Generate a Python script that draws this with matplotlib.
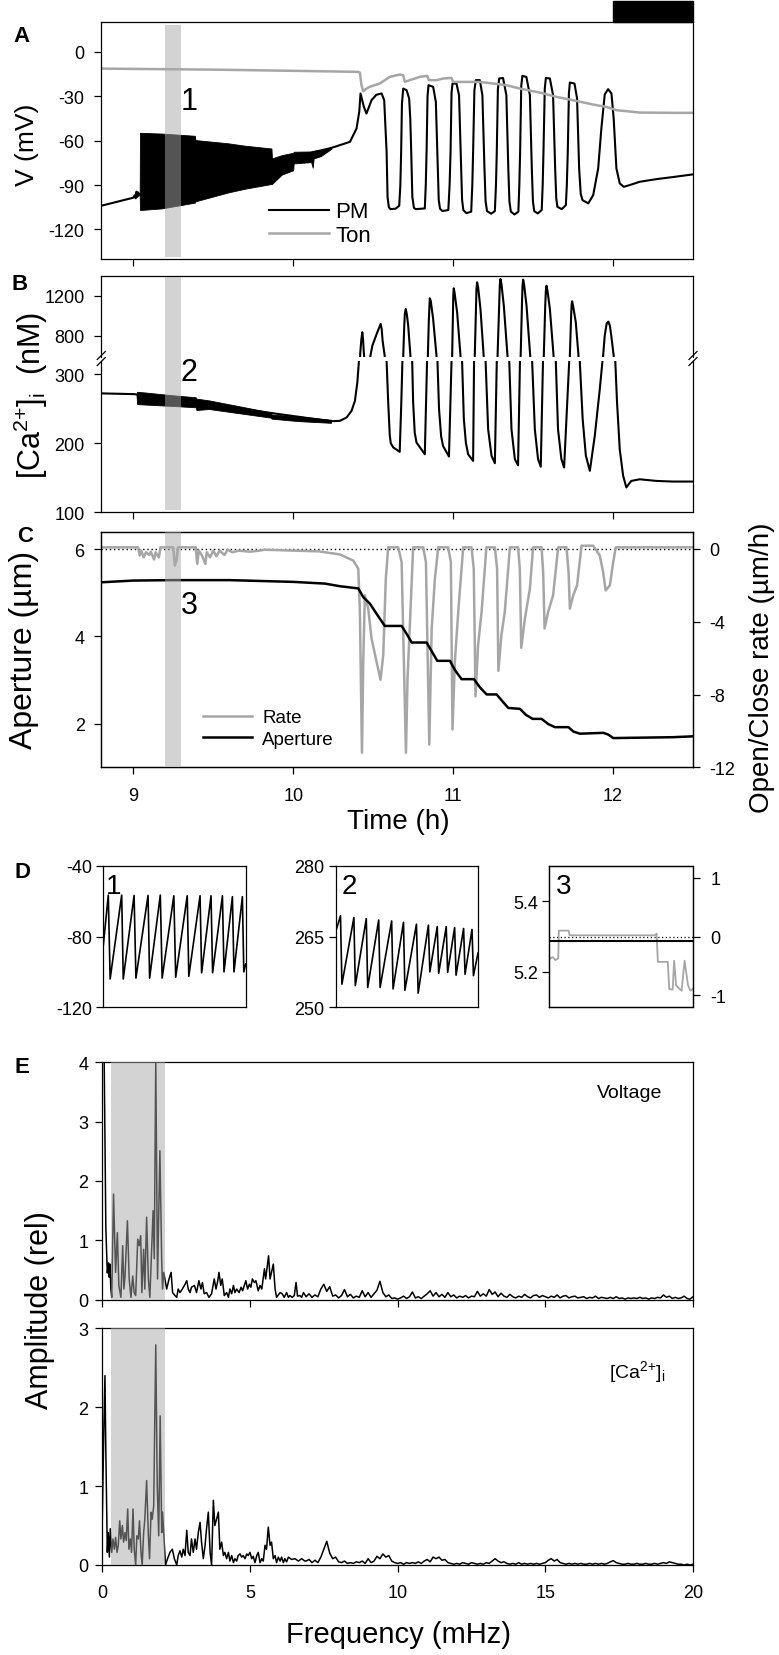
import numpy as np
import matplotlib
matplotlib.use("Agg")
import matplotlib.pyplot as plt
from matplotlib.lines import Line2D
from matplotlib.patches import Rectangle
import matplotlib.transforms as mtransforms

plt.rcParams['font.family'] = ['Liberation Sans', 'DejaVu Sans']
plt.rcParams['mathtext.default'] = 'regular'
plt.rcParams['axes.unicode_minus'] = False

# ---------------- DATA ----------------
# Panel A : membrane voltage (PM, black) and tonoplast (Ton, grey), time in h
pm_t = [8.80, 8.999, 9.010, 9.015, 9.020, 9.025, 9.030, 9.036, 9.040,
        10.239, 10.2925, 10.355, 10.396, 10.413, 10.421, 10.442, 10.458, 10.490, 10.520, 10.553,
        10.569, 10.584, 10.590, 10.598, 10.608, 10.640, 10.663, 10.670, 10.675, 10.680,
        10.688, 10.709, 10.725, 10.732, 10.738, 10.745, 10.755, 10.767, 10.823, 10.829,
        10.834, 10.840, 10.846, 10.875, 10.892, 10.904, 10.910, 10.918, 10.933, 10.970,
        10.978, 10.984, 10.990, 10.996, 11.021, 11.037, 11.050, 11.056, 11.064, 11.083,
        11.113, 11.120, 11.125, 11.133, 11.142, 11.167, 11.183, 11.196, 11.203, 11.212,
        11.238, 11.261, 11.268, 11.273, 11.280, 11.288, 11.312, 11.333, 11.345, 11.352,
        11.361, 11.384, 11.408, 11.414, 11.419, 11.426, 11.433, 11.458, 11.480, 11.492,
        11.499, 11.507, 11.529, 11.554, 11.560, 11.565, 11.573, 11.580, 11.605, 11.625,
        11.638, 11.645, 11.652, 11.679, 11.705, 11.711, 11.717, 11.724, 11.730, 11.759,
        11.775, 11.788, 11.798, 11.809, 11.845, 11.876, 11.907, 11.927, 11.948, 11.969,
        11.990, 12.004, 12.021, 12.042, 12.067, 12.105, 12.167, 12.272, 12.375, 12.500]
pm_v = [-104.0, -98.6, -96.8, -99.0, -94.5, -98.0, -95.0, -97.0, -96.0,
        -64.9, -63.0, -60.8, -51.8, -40.5, -28.1, -37.2, -41.7, -32.6, -29.0, -28.1,
        -32.7, -67.5, -98.0, -105.0, -106.3, -106.0, -104.0, -90.0, -67.5, -35.0,
        -24.8, -25.9, -31.5, -45.0, -67.5, -98.0, -105.5, -106.3, -105.8, -90.0,
        -67.5, -30.0, -22.5, -23.6, -33.8, -78.8, -100.0, -106.0, -107.6, -106.9,
        -90.0, -67.5, -28.0, -21.4, -21.4, -29.3, -78.8, -100.0, -107.0, -109.0,
        -108.0, -90.0, -67.5, -26.0, -19.1, -19.1, -29.3, -78.8, -101.0, -107.6,
        -109.4, -107.6, -90.0, -67.5, -25.0, -18.0, -17.6, -29.3, -78.8, -101.0,
        -108.0, -109.9, -108.0, -90.0, -67.5, -23.0, -16.2, -16.9, -29.3, -78.8,
        -101.0, -107.6, -109.2, -106.9, -90.0, -67.5, -25.0, -17.6, -18.0, -29.3,
        -78.8, -99.0, -104.7, -106.3, -103.6, -90.0, -67.5, -28.0, -20.7, -21.4,
        -31.5, -78.8, -96.0, -100.2, -102.4, -96.8, -78.8, -51.8, -28.8, -25.2,
        -28.1, -45.0, -78.8, -88.9, -91.2, -90.0, -87.8, -86.0, -84.6, -82.8]
# envelope of the fast (unresolved) PM oscillations
pm_band_t = [9.040, 9.042, 9.177, 9.385, 9.389, 9.594, 9.698, 9.864, 9.867, 9.928,
             10.000, 10.003, 10.112, 10.122, 10.128, 10.172, 10.239]
pm_band_hi = [-96.0, -54.7, -55.2, -56.7, -59.6, -61.8, -63.4, -65.3, -72.0, -69.8,
              -68.2, -67.5, -67.3, -67.0, -66.8, -66.2, -65.0]
pm_band_lo = [-97.0, -106.9, -105.8, -101.9, -101.0, -95.0, -92.5, -89.3, -89.3, -83.0,
              -80.0, -75.4, -74.5, -78.3, -72.0, -70.5, -65.5]
ton_t = [8.80, 9.50, 10.00, 10.405, 10.417, 10.427, 10.438, 10.458, 10.479, 10.541,
         10.604, 10.666, 10.688, 10.698, 10.729, 10.792, 10.838, 10.848, 10.896, 10.938,
         10.990, 11.000, 11.083, 11.167, 11.250, 11.333, 11.417, 11.542, 11.646, 11.751,
         11.876, 11.958, 12.021, 12.167, 12.375, 12.500]
ton_v = [-11.3, -12.0, -12.8, -13.5, -14.0, -22.5, -26.6, -24.8, -23.6, -21.4,
         -16.9, -15.3, -15.8, -20.3, -19.1, -16.9, -16.2, -19.1, -19.1, -18.0,
         -17.6, -20.3, -20.3, -20.3, -21.4, -22.5, -24.8, -27.5, -30.4, -32.7,
         -35.6, -37.2, -39.4, -41.0, -41.2, -41.2]

# Panel B : cytosolic Ca2+ (nM)
ca_t = [8.80, 9.009, 9.020, 10.236, 10.2925, 10.334, 10.365, 10.386, 10.401, 10.411,
        10.415, 10.419, 10.426, 10.432, 10.437, 10.442, 10.453, 10.479, 10.483, 10.495,
        10.525, 10.547, 10.553, 10.559, 10.572, 10.576, 10.584, 10.594, 10.604, 10.610,
        10.625, 10.666, 10.676, 10.683, 10.685, 10.688, 10.694, 10.698, 10.704, 10.711,
        10.719, 10.733, 10.735, 10.744, 10.750, 10.760, 10.771, 10.823, 10.837, 10.839,
        10.842, 10.848, 10.852, 10.854, 10.860, 10.875, 10.896, 10.898, 10.902, 10.912,
        10.925, 10.937, 10.974, 10.990, 10.992, 10.994, 10.999, 11.001, 11.004, 11.009,
        11.025, 11.046, 11.048, 11.056, 11.067, 11.080, 11.094, 11.125, 11.131, 11.133,
        11.135, 11.143, 11.146, 11.150, 11.156, 11.171, 11.191, 11.193, 11.203, 11.219,
        11.240, 11.261, 11.273, 11.275, 11.278, 11.289, 11.292, 11.296, 11.302, 11.317,
        11.340, 11.342, 11.351, 11.365, 11.386, 11.406, 11.418, 11.420, 11.422, 11.431,
        11.434, 11.438, 11.444, 11.459, 11.482, 11.484, 11.494, 11.511, 11.531, 11.548,
        11.562, 11.564, 11.567, 11.576, 11.580, 11.584, 11.590, 11.605, 11.628, 11.630,
        11.642, 11.656, 11.677, 11.694, 11.726, 11.728, 11.730, 11.738, 11.741, 11.744,
        11.750, 11.767, 11.784, 11.786, 11.792, 11.810, 11.830, 11.855, 11.886, 11.917,
        11.934, 11.936, 11.938, 11.948, 11.960, 11.971, 11.980, 11.989, 12.004, 12.006,
        12.014, 12.025, 12.042, 12.063, 12.083, 12.114, 12.167, 12.272, 12.375, 12.500]
ca_v = [272.1, 271.0, 270.5, 231.8, 232.4, 237.2, 246.9, 261.4, 287.9, 319,
        450, 620, 760, 834, 760, 620, 450, 500, 600, 700,
        830, 917, 870, 750, 600, 450, 319, 259, 211, 200,
        194, 187.5, 259, 319, 450, 600, 880, 1020, 1067, 1010,
        900, 600, 450, 319, 259, 215, 201, 184, 319, 450,
        600, 950, 1110, 1174, 1150, 967, 600, 450, 319, 249,
        210, 196, 180.7, 319, 450, 600, 1050, 1200, 1274, 1230,
        1034, 600, 450, 319, 235, 200, 184, 174.4, 319, 450,
        600, 1100, 1270, 1334, 1290, 1067, 600, 450, 319, 220,
        182, 171, 319, 450, 600, 1150, 1310, 1367, 1320, 1100,
        600, 450, 319, 220, 177, 168, 319, 450, 600, 1150,
        1300, 1360, 1310, 1100, 600, 450, 319, 220, 177, 166,
        319, 450, 600, 1100, 1250, 1300, 1250, 1067, 600, 450,
        319, 220, 177, 164.8, 319, 450, 600, 1000, 1110, 1144,
        1100, 934, 600, 450, 319, 235, 182, 160, 211, 278,
        319, 450, 600, 800, 920, 940, 900, 800, 600, 450,
        319, 259, 191, 153, 136, 145.4, 147.8, 145.4, 144.5, 144.5]
ca_band_t = [9.020, 9.024, 9.070, 9.240, 9.390, 9.395, 9.473, 9.860, 9.865, 10.030, 10.236]
ca_band_hi = [271.0, 274.4, 273.5, 269.5, 266.5, 264.5, 262.0, 244.6, 241.5, 239.0, 234.0]
ca_band_lo = [270.0, 256.6, 256.0, 254.0, 252.0, 248.0, 249.5, 237.0, 235.5, 232.0, 229.5]

# Panel C : stomatal aperture (um) and open/close rate (um/h)
ap_t = [8.80, 9.00, 9.25, 9.60, 10.00, 10.20, 10.2925, 10.407, 10.438, 10.480,
        10.521, 10.573, 10.678, 10.709, 10.741, 10.834, 10.866, 10.901, 10.980, 11.011,
        11.053, 11.130, 11.168, 11.210, 11.272, 11.309, 11.345, 11.418, 11.456, 11.497,
        11.553, 11.595, 11.637, 11.721, 11.752, 11.793, 11.939, 11.970, 12.001, 12.375,
        12.500]
ap_v = [5.24, 5.28, 5.29, 5.29, 5.25, 5.21, 5.15, 5.10, 4.90, 4.75,
        4.52, 4.24, 4.24, 4.06, 3.86, 3.86, 3.66, 3.44, 3.44, 3.23,
        3.02, 3.02, 2.83, 2.67, 2.67, 2.51, 2.36, 2.34, 2.20, 2.11,
        2.11, 1.99, 1.92, 1.92, 1.82, 1.77, 1.79, 1.75, 1.67, 1.69,
        1.71]
rate_t = [8.80, 9.03, 9.04, 9.05, 9.065, 9.08, 9.10, 9.11, 9.13, 9.14,
          9.16, 9.17, 9.25, 9.26, 9.27, 9.28, 9.39, 9.40, 9.41, 9.43,
          9.45, 9.46, 9.48, 9.50, 9.52, 9.54, 9.57, 9.59, 9.62, 9.66,
          9.73, 9.79, 9.82, 10.00, 10.16, 10.2925, 10.376, 10.407, 10.417, 10.430,
          10.438, 10.448, 10.469, 10.490, 10.521, 10.546, 10.563, 10.579, 10.594, 10.657,
          10.678, 10.705, 10.715, 10.733, 10.750, 10.813, 10.830, 10.851, 10.866, 10.886,
          10.907, 10.969, 10.986, 10.996, 11.011, 11.032, 11.063, 11.115, 11.129, 11.140,
          11.156, 11.178, 11.208, 11.261, 11.275, 11.283, 11.302, 11.323, 11.355, 11.406,
          11.417, 11.426, 11.449, 11.480, 11.500, 11.553, 11.563, 11.572, 11.594, 11.625,
          11.657, 11.709, 11.722, 11.730, 11.751, 11.775, 11.803, 11.876, 11.917, 11.938,
          11.954, 11.980, 12.001, 12.017, 12.500]
rate_v = [0.09, 0.09, -0.36, -0.09, -0.46, -0.18, -0.33, -0.15, -0.58, -0.18,
          -0.46, 0.09, 0.09, -0.91, -0.64, 0.09, 0.09, -0.82, -0.09, -0.36,
          -0.82, -0.18, -0.46, -0.09, -0.40, -0.09, -0.33, -0.04, -0.18, -0.09,
          -0.15, -0.09, -0.04, -0.09, -0.13, -0.30, -0.64, -1.09, -3.46, -11.2,
          -6.2, -2.55, -3.28, -4.92, -6.19, -7.19, -5.83, -1.64, 0.09, 0.09,
          -0.73, -11.2, -7.1, -3.46, 0.09, 0.09, -0.73, -10.75, -4.37, -1.64,
          0.09, 0.09, -0.73, -9.92, -6.19, -3.46, 0.09, 0.09, -1.09, -8.1,
          -5.28, -3.46, 0.09, 0.09, -1.09, -6.7, -4.73, -3.46, 0.09, 0.09,
          -1.09, -5.43, -3.82, -2.18, 0.09, 0.09, -1.27, -4.37, -3.46, -2.55,
          0.09, 0.09, -1.27, -3.28, -2.55, -2.0, 0.18, 0.18, -0.36, -1.27,
          -2.28, -2.0, -0.73, 0.09, 0.09]

# Panel D : zoomed windows (9.2 - 9.3 h)
d1_t = [9.2000, 9.2035, 9.2048, 9.2129, 9.2140, 9.2216, 9.2229, 9.2314, 9.2325, 9.2400,
        9.2413, 9.2495, 9.2508, 9.2589, 9.2600, 9.2679, 9.2690, 9.2756, 9.2767, 9.2836,
        9.2847, 9.2906, 9.2917, 9.2976, 9.2986, 9.3000]
d1_v = [-85.0, -56.6, -104.0, -56.6, -104.0, -56.8, -103.5, -56.8, -103.5, -56.6,
        -103.5, -57.0, -103.0, -57.0, -102.5, -57.0, -100.5, -57.0, -100.5, -57.0,
        -100.0, -57.5, -100.0, -57.5, -100.0, -95.5]
d2_t = [9.2000, 9.2035, 9.2045, 9.2129, 9.2139, 9.2216, 9.2226, 9.2303, 9.2313, 9.2394,
        9.2404, 9.2477, 9.2487, 9.2568, 9.2580, 9.2652, 9.2662, 9.2714, 9.2724, 9.2777,
        9.2787, 9.2836, 9.2846, 9.2899, 9.2909, 9.2958, 9.2968, 9.3000]
d2_ca = [265.9, 269.4, 254.9, 269.0, 254.6, 268.8, 254.2, 268.5, 254.2, 268.3,
         253.9, 268.0, 253.6, 267.6, 253.0, 267.4, 257.5, 267.1, 257.2, 267.1,
         257.4, 266.9, 256.8, 266.7, 257.0, 266.5, 256.7, 261.5]
d3_ap_t = [9.2, 9.3]
d3_ap = [5.287, 5.287]
d3_rate_t = [9.2000, 9.2028, 9.2045, 9.2066, 9.2070, 9.2138, 9.2145, 9.2745, 9.2750, 9.2759,
             9.2828, 9.2838, 9.2862, 9.2872, 9.2886, 9.2924, 9.2945, 9.2969, 9.2986, 9.3000]
d3_rate = [-0.38, -0.35, -0.40, -0.37, 0.10, 0.10, 0.02, 0.02, 0.05, -0.43,
           -0.43, -0.89, -0.90, -0.41, -0.83, -0.92, -0.41, -0.83, -0.92, -0.89]

# Panel E : amplitude spectra
fv_low = [0.00, 0.06, 0.12, 0.17, 0.21, 0.23, 0.26, 0.29, 0.32, 0.38, 0.45, 0.51, 0.56, 0.63,
          0.69, 0.73, 0.77, 0.85, 0.91, 0.97, 1.03, 1.08, 1.13, 1.20, 1.25, 1.30, 1.34, 1.40,
          1.44, 1.50, 1.56, 1.61, 1.67, 1.72, 1.76, 1.81, 1.87, 1.95, 2.01, 2.04, 2.08, 2.12,
          2.18, 2.26, 2.33, 2.38, 2.46, 2.52, 2.57, 2.63, 2.71, 2.78, 2.86, 2.91, 2.97, 3.02,
          3.12, 3.19, 3.27, 3.34, 3.39, 3.45, 3.53, 3.61, 3.70, 3.79, 3.85, 3.91, 3.95, 4.01,
          4.06, 4.13, 4.21, 4.27, 4.32, 4.38, 4.44, 4.49, 4.55, 4.63, 4.70, 4.75, 4.81, 4.86,
          4.92, 4.98, 5.03, 5.08, 5.15, 5.20, 5.28, 5.34, 5.40, 5.49, 5.53, 5.58, 5.63, 5.68,
          5.73, 5.79, 5.85, 5.90, 6.02, 6.09, 6.16, 6.24, 6.30, 6.35, 6.43, 6.50, 6.56, 6.61,
          6.69, 6.75, 6.81]
av_low = [7.0, 4.2, 1.2, 0.45, 0.62, 0.38, 0.60, 0.18, 0.04, 1.78, 0.46, 1.13, 0.24, 0.04,
          0.91, 0.18, 0.40, 1.33, 0.35, 0.04, 0.40, 0.12, 0.07, 1.02, 0.91, 1.08, 0.12, 0.85,
          0.18, 1.39, 0.35, 0.04, 0.85, 1.50, 0.69, 4.05, 0.35, 2.51, 0.69, 0.18, 0.46, 0.35,
          0.18, 0.35, 0.46, 0.12, 0.07, 0.04, 0.18, 0.12, 0.18, 0.24, 0.32, 0.18, 0.12, 0.21,
          0.24, 0.12, 0.32, 0.18, 0.29, 0.10, 0.12, 0.04, 0.10, 0.35, 0.18, 0.32, 0.46, 0.24,
          0.35, 0.07, 0.12, 0.04, 0.18, 0.10, 0.24, 0.12, 0.18, 0.12, 0.21, 0.15, 0.24, 0.32,
          0.18, 0.26, 0.21, 0.35, 0.29, 0.32, 0.15, 0.24, 0.18, 0.52, 0.35, 0.54, 0.74, 0.35,
          0.46, 0.60, 0.18, 0.04, 0.12, 0.10, 0.04, 0.12, 0.04, 0.07, 0.04, 0.07, 0.29, 0.06,
          0.07, 0.04, 0.12]
# 6.9 .. 20.0 mHz in 0.1 mHz bins
av_high = [0.05, 0.10, 0.04, 0.08, 0.05, 0.18, 0.26, 0.14, 0.22, 0.06,
           0.08, 0.03, 0.07, 0.17, 0.05, 0.09, 0.03, 0.06, 0.04, 0.15,
           0.05, 0.12, 0.04, 0.10, 0.16, 0.31, 0.12, 0.05, 0.08, 0.02,
           0.03, 0.01, 0.03, 0.06, 0.02, 0.05, 0.13, 0.03, 0.05, 0.02,
           0.06, 0.10, 0.15, 0.06, 0.12, 0.05, 0.09, 0.04, 0.12, 0.05,
           0.08, 0.03, 0.06, 0.04, 0.07, 0.03, 0.06, 0.05, 0.14, 0.06,
           0.10, 0.06, 0.17, 0.09, 0.13, 0.05, 0.11, 0.06, 0.04, 0.09,
           0.05, 0.03, 0.06, 0.04, 0.09, 0.05, 0.03, 0.07, 0.08, 0.04,
           0.07, 0.05, 0.03, 0.06, 0.04, 0.08, 0.03, 0.06, 0.07, 0.03,
           0.05, 0.06, 0.03, 0.04, 0.05, 0.02, 0.04, 0.03, 0.06, 0.02,
           0.04, 0.03, 0.02, 0.04, 0.02, 0.05, 0.02, 0.03, 0.01, 0.03,
           0.02, 0.03, 0.02, 0.04, 0.02, 0.03, 0.01, 0.03, 0.02, 0.04,
           0.03, 0.08, 0.04, 0.06, 0.02, 0.04, 0.02, 0.03, 0.06, 0.02,
           0.01, 0.05]
fc_low = [0.00, 0.05, 0.09, 0.12, 0.17, 0.20, 0.24, 0.27, 0.32, 0.36, 0.41, 0.45, 0.50, 0.54,
          0.59, 0.63, 0.68, 0.72, 0.77, 0.81, 0.86, 0.90, 0.95, 0.99, 1.04, 1.08, 1.13, 1.17,
          1.22, 1.26, 1.31, 1.35, 1.40, 1.44, 1.50, 1.56, 1.60, 1.65, 1.69, 1.74, 1.81, 1.86,
          1.91, 1.96, 2.01, 2.04, 2.09, 2.14, 2.21, 2.29, 2.37, 2.44, 2.52, 2.57, 2.63, 2.69,
          2.74, 2.80, 2.86, 2.91, 2.97, 3.02, 3.08, 3.14, 3.19, 3.25, 3.31, 3.36, 3.42, 3.48,
          3.53, 3.59, 3.65, 3.70, 3.76, 3.81, 3.87, 3.93, 3.98, 4.04, 4.10, 4.15, 4.21, 4.27,
          4.32, 4.38, 4.44, 4.49, 4.55, 4.60, 4.66, 4.72, 4.77, 4.83, 4.89, 4.94, 5.00, 5.06,
          5.11, 5.17, 5.23, 5.28, 5.34, 5.40, 5.45, 5.51, 5.56, 5.62, 5.68, 5.73, 5.79, 5.85,
          5.90, 5.96, 6.02, 6.07, 6.13, 6.18, 6.24, 6.30, 6.41, 6.52, 6.64, 6.75, 6.86]
ac_low = [0.58, 1.68, 2.40, 1.43, 0.16, 0.41, 0.10, 0.46, 0.16, 0.33, 0.20, 0.35, 0.16, 0.25,
          0.56, 0.33, 0.50, 0.29, 0.41, 0.31, 0.71, 0.20, 0.33, 0.16, 0.71, 0.20, 0.00, 0.37,
          0.33, 0.56, 0.16, 0.00, 0.41, 0.58, 1.07, 0.37, 0.08, 0.67, 0.58, 0.75, 2.79, 1.01,
          0.37, 1.89, 0.41, 0.67, 0.33, 0.00, 0.08, 0.16, 0.20, 0.08, 0.00, 0.12, 0.18, 0.10,
          0.20, 0.12, 0.44, 0.16, 0.12, 0.33, 0.16, 0.33, 0.20, 0.41, 0.54, 0.29, 0.08, 0.25,
          0.46, 0.67, 0.16, 0.00, 0.82, 0.50, 0.58, 0.67, 0.20, 0.29, 0.12, 0.16, 0.08, 0.16,
          0.05, 0.12, 0.03, 0.08, 0.05, 0.12, 0.14, 0.10, 0.12, 0.08, 0.14, 0.12, 0.16, 0.08,
          0.11, 0.03, 0.12, 0.16, 0.03, 0.08, 0.05, 0.25, 0.20, 0.48, 0.25, 0.29, 0.08, 0.12,
          0.03, 0.10, 0.05, 0.10, 0.03, 0.08, 0.04, 0.10, 0.07, 0.08, 0.05, 0.08, 0.05]
ac_high = [0.05, 0.07, 0.03, 0.06, 0.03, 0.10, 0.20, 0.30, 0.15, 0.08,
           0.10, 0.04, 0.03, 0.05, 0.02, 0.03, 0.02, 0.04, 0.03, 0.05,
           0.02, 0.08, 0.03, 0.05, 0.11, 0.08, 0.14, 0.10, 0.12, 0.05,
           0.03, 0.02, 0.03, 0.01, 0.03, 0.02, 0.03, 0.02, 0.04, 0.02,
           0.05, 0.07, 0.04, 0.10, 0.08, 0.10, 0.06, 0.07, 0.03, 0.02,
           0.01, 0.02, 0.01, 0.03, 0.02, 0.01, 0.03, 0.02, 0.01, 0.02,
           0.01, 0.03, 0.02, 0.05, 0.08, 0.05, 0.03, 0.04, 0.02, 0.01,
           0.02, 0.01, 0.03, 0.01, 0.02, 0.01, 0.02, 0.01, 0.02, 0.01,
           0.02, 0.03, 0.06, 0.08, 0.05, 0.07, 0.03, 0.02, 0.01, 0.02,
           0.01, 0.02, 0.01, 0.02, 0.01, 0.01, 0.02, 0.01, 0.02, 0.01,
           0.02, 0.01, 0.02, 0.04, 0.055, 0.03, 0.02, 0.01, 0.01, 0.02,
           0.01, 0.01, 0.02, 0.01, 0.01, 0.02, 0.01, 0.01, 0.02, 0.01,
           0.02, 0.03, 0.02, 0.04, 0.03, 0.02, 0.01, 0.01, 0.00, 0.01,
           0.00, 0.01]
f_high = np.linspace(6.9, 20.0, len(av_high))

window = (9.2, 9.3)          # grey highlighted window (h)
dark_period = (12.0, 12.5)   # black bar: lights off
spec_band = (0.28, 2.11)     # grey band in spectra (mHz)

# ---------------- STYLE / LAYOUT ----------------
GRAY = '#a6a6a6'
BANDC = (0.66, 0.66, 0.66)
TICK = 13
W, H = 779.0, 1656.0
fig = plt.figure(figsize=(W / 100, H / 100), dpi=100)


def add_ax(l, t, r, b):
    return fig.add_axes([l / W, 1 - b / H, (r - l) / W, (b - t) / H])


def style(ax, xpad=9, ypad=6):
    for s in ax.spines.values():
        s.set_linewidth(0.9)
    ax.tick_params(direction='out', length=5, width=0.9, labelsize=TICK)
    ax.tick_params(axis='x', pad=xpad)
    ax.tick_params(axis='y', pad=ypad)


def fig_band(ax, x0, x1, ytop, ybot):
    tr = mtransforms.blended_transform_factory(ax.transData, fig.transFigure)
    r = Rectangle((x0, 1 - ybot / H), x1 - x0, (ybot - ytop) / H, transform=tr,
                  facecolor=BANDC, alpha=0.5, edgecolor='none', zorder=10)
    fig.add_artist(r)


def ftext(x, y, s, **kw):
    fig.text(x / W, 1 - y / H, s, ha='center', va='center', **kw)


XT = [9, 10, 11, 12]
XLIM = (8.8, 12.5)
L, R = 101.3, 693.0

# ----- A -----
axA = add_ax(L, 23.3, R, 260)
style(axA, ypad=7)
lpm, = axA.plot(pm_t, pm_v, color='k', lw=1.5, label='PM')
axA.fill_between(pm_band_t, pm_band_lo, pm_band_hi, color='k', lw=0.6)
lton, = axA.plot(ton_t, ton_v, color=GRAY, lw=1.8, label='Ton')
axA.set_xlim(*XLIM)
axA.set_ylim(-140, 20)
axA.set_yticks([-120, -90, -60, -30, 0])
axA.set_xticks(XT)
axA.tick_params(labelbottom=False)
axA.legend(handles=[lpm, lton], loc='center left', bbox_to_anchor=(0.283, 0.149),
           frameon=False, fontsize=16, handlelength=2.7, handletextpad=0.3,
           labelspacing=0.12, borderpad=0, borderaxespad=0)
axA.text(9.35, -33, '1', ha='center', va='center', fontsize=22)
axA.add_patch(Rectangle((dark_period[0], 1.0), dark_period[1] - dark_period[0], 0.092,
                        transform=mtransforms.blended_transform_factory(axA.transData, axA.transAxes),
                        color='k', clip_on=False))
fig_band(axA, window[0], window[1], 26, 258)

# ----- B (broken axis) -----
axBt = add_ax(L, 276.7, R, 358.3)
axBb = add_ax(L, 361.7, R, 513.3)
for ax in (axBt, axBb):
    style(ax, ypad=7)
    ax.plot(ca_t, ca_v, color='k', lw=1.5)
    ax.set_xlim(*XLIM)
axBb.fill_between(ca_band_t, ca_band_lo, ca_band_hi, color='k', lw=0.6)
axBt.set_ylim(583, 1400)
axBt.set_yticks([800, 1200])
axBt.spines['bottom'].set_visible(False)
axBt.tick_params(bottom=False, labelbottom=False)
axBb.set_ylim(100, 319.4)
axBb.set_yticks([100, 200, 300])
axBb.spines['top'].set_visible(False)
axBb.set_xticks(XT)
axBb.tick_params(labelbottom=False)
axBb.text(9.35, 303, '2', ha='center', va='center', fontsize=22)
for cx in (L, R):
    for cy in (356.5, 362.5):
        fig.add_artist(Line2D([(cx - 4) / W, (cx + 4) / W], [1 - (cy + 4) / H, 1 - (cy - 4) / H],
                              transform=fig.transFigure, color='k', lw=0.9))
fig_band(axBb, window[0], window[1], 277.7, 511)

# ----- C -----
axC = add_ax(L, 532.7, R, 768.3)
axC2 = axC.twinx()
style(axC, ypad=7)
style(axC2, ypad=7)
axC2.axhline(0, color='k', ls=(0, (1, 2)), lw=1.0)
lrate, = axC2.plot(rate_t, rate_v, color=GRAY, lw=1.8, label='Rate')
lap, = axC.plot(ap_t, ap_v, color='k', lw=1.8, label='Aperture')
axC.set_zorder(axC2.get_zorder() + 1)
axC.patch.set_visible(False)
axC.set_xlim(*XLIM)
axC.set_ylim(1.0, 6.4)
axC.set_yticks([2, 4, 6])
axC2.set_ylim(-12, 0.95)
axC2.set_yticks([-12, -8, -4, 0])
axC.set_xticks(XT)
axC.legend(handles=[lrate, lap], loc='center left', bbox_to_anchor=(0.172, 0.165),
           frameon=False, fontsize=13.5, handlelength=2.6, handletextpad=0.55,
           labelspacing=0.25, borderpad=0, borderaxespad=0)
axC.text(9.35, 4.72, '3', ha='center', va='center', fontsize=22)
fig_band(axC, window[0], window[1], 532.7, 766.7)

# ----- D -----
axD1 = add_ax(103.3, 866.7, 245.8, 1008.3)
axD2 = add_ax(335.5, 866.7, 478.0, 1008.3)
axD3 = add_ax(548.8, 866.7, 692.5, 1008.3)
for ax in (axD1, axD2, axD3):
    style(ax, ypad=3)
    ax.set_xlim(*window)
    ax.set_xticks([])
axD1.plot(d1_t, d1_v, color='k', lw=1.2)
axD1.set_ylim(-120, -40)
axD1.set_yticks([-120, -80, -40])
axD2.plot(d2_t, d2_ca, color='k', lw=1.2)
axD2.set_ylim(250, 280)
axD2.set_yticks([250, 265, 280])
axD3b = axD3.twinx()
style(axD3b, ypad=8)
axD3b.set_xlim(*window)
axD3b.axhline(0, color='k', ls=(0, (1, 2)), lw=0.9)
axD3b.plot(d3_rate_t, d3_rate, color=GRAY, lw=1.3)
axD3b.set_ylim(-1.2, 1.2)
axD3b.set_yticks([-1, 0, 1])
axD3.plot(d3_ap_t, d3_ap, color='k', lw=1.5)
axD3.set_zorder(axD3b.get_zorder() + 1)
axD3.patch.set_visible(False)
axD3.set_ylim(5.1, 5.5)
axD3.set_yticks([5.2, 5.4])
for ax, lab, fx in ((axD1, '1', 0.075), (axD2, '2', 0.10), (axD3, '3', 0.10)):
    ax.text(fx, 0.855, lab, transform=ax.transAxes, ha='center', va='center', fontsize=20)

# ----- E -----
axE1 = add_ax(102.3, 1063.3, R, 1300.7)
axE2 = add_ax(102.3, 1329.3, R, 1566)
for ax, fl, al, ah in ((axE1, fv_low, av_low, av_high), (axE2, fc_low, ac_low, ac_high)):
    style(ax, xpad=9, ypad=5)
    ax.plot(list(fl) + list(f_high), list(al) + list(ah), color='k', lw=1.1, zorder=2)
    ax.axvspan(spec_band[0], spec_band[1], facecolor=BANDC, alpha=0.5, edgecolor='none', zorder=3)
    ax.set_xlim(0, 20)
    ax.set_xticks([0, 5, 10, 15, 20])
axE1.set_ylim(0, 4)
axE1.set_yticks([0, 1, 2, 3, 4])
axE1.tick_params(labelbottom=False)
axE2.set_ylim(0, 3)
axE2.set_yticks([0, 1, 2, 3])
axE1.text(0.893, 0.871, 'Voltage', transform=axE1.transAxes, ha='center', va='center', fontsize=14)
axE2.text(0.906, 0.82, '[Ca$^{2{+}}$]$_i$', transform=axE2.transAxes, ha='center', va='center', fontsize=14)

# ----- labels -----
for lab, x, y in (('A', 22, 36), ('B', 20, 285), ('C', 25, 537), ('D', 22, 873), ('E', 22, 1068)):
    ftext(x, y, lab, fontsize=16, fontweight='bold')
ftext(27, 145, 'V (mV)', fontsize=19, rotation=90)
ftext(31, 395, '[Ca$^{2{+}}$]$_i$  (nM)', fontsize=22, rotation=90)
ftext(24, 650, 'Aperture (\u00b5m)', fontsize=23, rotation=90)
ftext(762, 668, 'Open/Close rate (\u00b5m/h)', fontsize=20, rotation=90)
ftext(398, 822, 'Time (h)', fontsize=20)
ftext(40, 1310, 'Amplitude (rel)', fontsize=22, rotation=90)
ftext(398, 1635, 'Frequency (mHz)', fontsize=21)

fig.savefig('out.png', dpi=100)
